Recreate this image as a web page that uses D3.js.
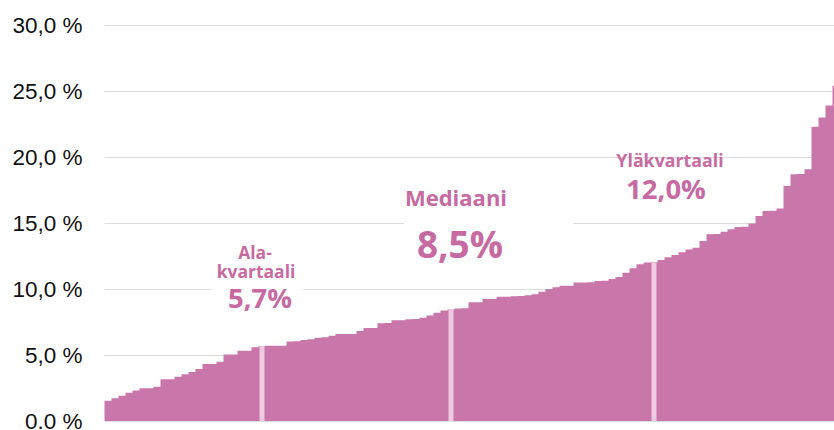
<!DOCTYPE html>
<html>
<head>
<meta charset="utf-8">
<script src="https://cdn.jsdelivr.net/npm/d3@7"></script>
<style>
  html, body { margin: 0; padding: 0; background: #fff; }
  svg { display: block; }
</style>
</head>
<body>
<svg id="chart"></svg>
<script>
// sorted values, %
const values = [
  1.54, 1.72, 1.92, 2.14, 2.32, 2.48, 2.48, 2.6, 3.16, 3.16,
  3.36, 3.54, 3.71, 3.94, 4.32, 4.32, 4.49, 5.03, 5.03, 5.33,
  5.33, 5.58, 5.68, 5.7, 5.7, 5.7, 6.02, 6.04, 6.14, 6.2,
  6.3, 6.35, 6.46, 6.6, 6.6, 6.6, 6.82, 7.05, 7.05, 7.4,
  7.42, 7.63, 7.63, 7.7, 7.73, 7.83, 8.0, 8.2, 8.38, 8.45,
  8.52, 8.54, 9.0, 9.0, 9.24, 9.24, 9.42, 9.42, 9.45, 9.47,
  9.52, 9.6, 9.8, 10.0, 10.13, 10.25, 10.25, 10.5, 10.5, 10.52,
  10.6, 10.62, 10.76, 10.9, 11.24, 11.57, 11.87, 12.0, 12.02, 12.2,
  12.4, 12.58, 12.78, 13.0, 13.13, 13.64, 14.14, 14.16, 14.34, 14.52,
  14.7, 14.72, 14.97, 15.53, 15.9, 15.92, 16.1, 17.8, 18.7, 18.72,
  19.07, 22.3, 23.0, 23.9, 25.4
];

const yTicks = [0, 5, 10, 15, 20, 25, 30];
const yTickLabels = ["0.0 %", "5,0 %", "10,0 %", "15,0 %", "20,0 %", "25,0 %", "30,0 %"];

// quartile markers: index of the bar they sit on
const markerIdx = [22, 49, 78];

const width = 834, height = 430;
const plotLeft = 104.5, plotBottom = 421, plotTop = 25;
const step = 7;

const svg = d3.select("#chart")
  .attr("width", width)
  .attr("height", height)
  .attr("viewBox", `0 0 ${width} ${height}`);

const x = d3.scaleBand()
  .domain(d3.range(values.length))
  .range([plotLeft, plotLeft + step * values.length])
  .padding(0);

const y = d3.scaleLinear()
  .domain([0, 30])
  .range([plotBottom, plotTop]);

const barColor = "#c977aa";
const labelColor = "#c76aa2";
const markerColor = "#efc9df";

// gridlines + tick labels
const yAxis = d3.axisLeft(y)
  .tickValues(yTicks)
  .tickSize(-(width - plotLeft))
  .tickPadding(22)
  .tickFormat((d, i) => yTickLabels[i]);

const gAxis = svg.append("g")
  .attr("transform", `translate(${plotLeft},0)`)
  .call(yAxis);

gAxis.select(".domain").remove();
gAxis.selectAll(".tick line")
  .attr("stroke", "#dcdcdc")
  .attr("stroke-width", 1.2);
gAxis.selectAll(".tick text")
  .attr("fill", "#111")
  .attr("font-family", "Liberation Sans, Arial, sans-serif")
  .attr("font-size", 22.5)
  .attr("dy", "0.34em");

// white boxes behind the labels (they cut the gridlines)
const boxes = [
  { x0: 211, x1: 303, y0: 236, y1: 318 },
  { x0: 404, x1: 573, y0: 178, y1: 272 }
];
svg.append("g").selectAll("rect")
  .data(boxes)
  .join("rect")
  .attr("x", d => d.x0)
  .attr("y", d => d.y0)
  .attr("width", d => d.x1 - d.x0)
  .attr("height", d => d.y1 - d.y0)
  .attr("fill", "#fff");

// step area (one flat step per value)
const stepPts = values.map((v, i) => [x(i), v]);
stepPts.push([x(values.length - 1) + x.bandwidth(), values[values.length - 1]]);

const area = d3.area()
  .x(d => d[0])
  .y0(y(0))
  .y1(d => y(d[1]))
  .curve(d3.curveStepAfter);

svg.append("path")
  .datum(stepPts)
  .attr("d", area)
  .attr("fill", barColor);

// quartile markers
svg.append("g").selectAll("rect")
  .data(markerIdx)
  .join("rect")
  .attr("x", i => x(i) + x.bandwidth() / 2 - 2.5)
  .attr("y", i => y(values[i]))
  .attr("width", 5)
  .attr("height", i => y(0) - y(values[i]))
  .attr("fill", markerColor);

// labels (y = baseline)
const labels = [
  { text: "Ala-", x: 255, y: 259, size: 17.5 },
  { text: "kvartaali", x: 256, y: 278, size: 17.5 },
  { text: "5,7%", x: 260, y: 308, size: 27.5 },
  { text: "Mediaani", x: 456, y: 206, size: 22 },
  { text: "8,5%", x: 460, y: 258, size: 37 },
  { text: "Yläkvartaali", x: 670, y: 167, size: 17.8 },
  { text: "12,0%", x: 666, y: 199, size: 27.5 }
];
svg.append("g").selectAll("text")
  .data(labels)
  .join("text")
  .attr("x", d => d.x)
  .attr("y", d => d.y)
  .attr("text-anchor", "middle")
  .attr("font-family", "'Open Sans', Lato, sans-serif")
  .attr("font-weight", 700)
  .attr("font-size", d => d.size)
  .attr("fill", labelColor)
  .text(d => d.text);
</script>
</body>
</html>
